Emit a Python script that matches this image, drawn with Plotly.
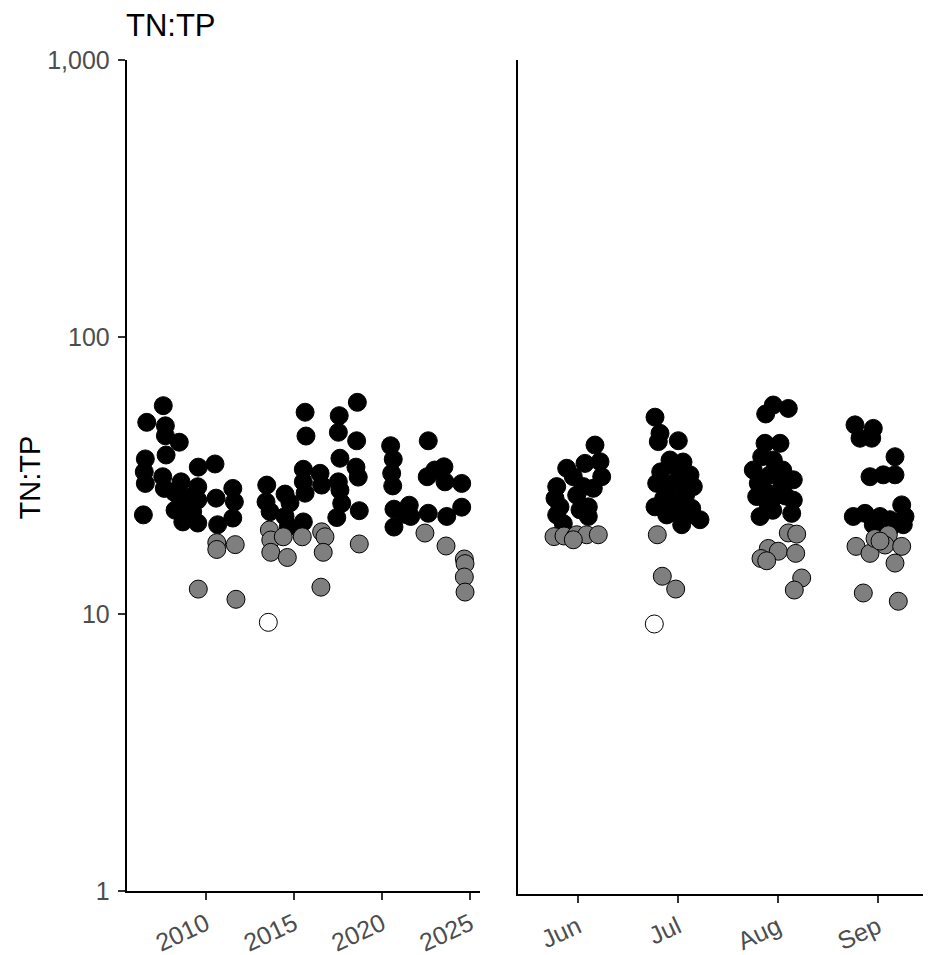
import plotly.graph_objects as go

# ---------------- data ----------------
# Left panel: x = year (jittered), y = TN:TP
left_black_x = [2007.57, 2006.63, 2007.69, 2007.69, 2008.48, 2007.73, 2006.55, 2009.56, 2010.51, 2006.49,
                2006.55, 2007.54, 2007.63, 2008.58, 2009.53, 2008.48, 2008.58, 2009.53, 2009.24, 2008.68,
                2009.53, 2010.57, 2011.52, 2011.61, 2011.52, 2010.66, 2006.44, 2009.09, 2008.24,
                2008.90, 2009.00, 2008.20,
                2018.60, 2015.63, 2017.57, 2017.52, 2015.68, 2018.56, 2017.61, 2018.52, 2015.53, 2016.48,
                2018.65, 2017.52, 2015.53, 2016.57, 2013.45, 2014.49, 2015.63, 2013.41, 2013.64, 2017.71,
                2018.71, 2017.43, 2014.49, 2015.53, 2014.68, 2014.77, 2017.61,
                2020.49, 2022.63, 2020.64, 2020.55, 2020.61, 2022.57, 2023.52, 2023.58, 2024.53, 2020.68,
                2021.55, 2021.63, 2020.68, 2022.63, 2023.68, 2024.53, 2023.00, 2021.30]
left_black_y = [56.5, 49.2, 47.8, 44.0, 41.7, 37.5, 36.3, 33.9, 34.8, 32.6,
                29.6, 31.3, 28.4, 30.0, 28.8, 26.5, 24.4, 25.8, 23.4, 21.5,
                21.3, 26.2, 28.4, 25.4, 22.2, 21.0, 22.8, 26.4, 23.7,
                22.5, 24.0, 27.5,
                58.1, 53.5, 52.0, 45.3, 43.9, 42.2, 36.5, 33.9, 33.3, 32.2,
                31.2, 30.0, 30.0, 29.2, 29.2, 27.1, 27.3, 25.4, 23.4, 25.1,
                23.6, 22.3, 22.5, 21.5, 20.7, 25.2, 28.0,
                40.5, 42.2, 36.2, 32.2, 29.0, 31.3, 34.0, 30.0, 29.6, 23.9,
                24.7, 22.5, 20.6, 23.1, 22.5, 24.3, 33.1, 22.9]
left_gray_x = [2010.61, 2010.61, 2011.66, 2009.56, 2011.70, 2013.60, 2013.68, 2014.39, 2015.47, 2016.57,
               2016.76, 2013.68, 2014.62, 2016.66, 2018.71, 2016.53, 2022.44, 2023.64, 2024.68, 2024.72,
               2024.68, 2024.72]
left_gray_y = [18.1, 17.1, 17.8, 12.3, 11.3, 20.1, 18.5, 19.0, 19.0, 19.8,
               19.0, 16.7, 16.0, 16.7, 17.9, 12.5, 19.6, 17.6, 15.8, 15.2,
               13.6, 12.0]
left_white_x = [2013.54]
left_white_y = [9.33]

# Right panel: x = month (jittered), y = TN:TP
right_black_x = [6.173, 6.223, 5.890, 6.073, 6.240, 5.790, 5.773, 5.956, 6.056, 6.156, 6.106, 5.790, 5.856,
                 6.106, 5.990, 5.823, 6.023,
                 6.773, 6.823, 7.006, 6.806, 6.973, 6.790, 7.123, 6.956, 7.156, 6.773, 7.023, 7.140, 6.890,
                 7.040, 7.223, 6.890, 7.053, 6.923, 7.053, 6.860, 7.080, 6.950, 6.830, 7.100,
                 7.956, 8.106, 7.880, 7.873, 8.023, 7.840, 7.956, 7.756, 7.806, 8.156, 8.040, 7.790, 7.973,
                 8.156, 7.823, 8.140, 7.906, 7.923, 7.880, 8.080, 7.950, 8.050,
                 8.773, 8.956, 8.823, 8.940, 9.173, 8.923, 9.056, 9.173, 8.756, 8.873, 9.023, 9.123, 9.240,
                 9.273, 8.956, 9.123, 9.256]
right_black_y = [41.2, 35.9, 34.0, 35.4, 31.7, 29.2, 26.5, 31.7, 29.2, 28.8, 24.7, 23.1, 21.5,
                 22.8, 27.2, 24.7, 24.1,
                 51.9, 45.4, 42.7, 42.4, 34.5, 30.0, 32.2, 30.0, 29.2, 24.7, 26.1, 24.4, 23.1,
                 21.3, 22.2, 28.4, 31.4, 36.4, 35.8, 26.5, 27.3, 24.0, 33.0, 23.0,
                 57.4, 55.8, 53.3, 41.8, 41.8, 37.4, 36.4, 33.5, 30.0, 30.9, 29.2, 26.9, 26.9,
                 26.1, 22.8, 23.4, 25.1, 32.2, 28.0, 27.0, 24.0, 33.5,
                 48.7, 47.3, 43.6, 43.6, 37.4, 31.7, 32.2, 32.2, 22.8, 23.4, 22.8, 22.2, 25.1,
                 22.8, 21.3, 20.7, 21.3]
right_gray_x = [5.763, 5.863, 5.973, 5.990, 6.090, 6.206, 5.956,
                6.796, 6.846, 6.980,
                8.106, 8.190, 7.906, 8.006, 7.833, 7.890, 8.180, 8.240, 8.166,
                8.783, 8.923, 8.973, 9.106, 9.073, 9.023, 9.240, 9.173, 8.856, 9.206]
right_gray_y = [19.3, 19.4, 19.2, 19.6, 19.6, 19.6, 18.8,
                19.6, 13.9, 12.5,
                19.9, 19.7, 17.5, 17.1, 16.1, 15.8, 16.8, 13.7, 12.4,
                17.8, 16.8, 19.0, 19.6, 18.0, 18.6, 17.8, 15.5, 12.1, 11.3]
right_white_x = [6.766]
right_white_y = [9.36]

year_ticks = [2010, 2015, 2020, 2025]
month_ticks = [6, 7, 8, 9]
month_labels = ["Jun", "Jul", "Aug", "Sep"]
y_ticks = [1, 10, 100, 1000]
y_labels = ["1", "10", "100", "1,000"]

# ---------------- figure ----------------
W, H = 931, 955
OFF = 8  # page body margin offset
FONT = "Liberation Sans, Arial, sans-serif"


def px(p):
    return (p - OFF) / W


def py(p):
    return (H - (p - OFF)) / H


fig = go.Figure()


def add_pts(x, y, fill, xa, ya):
    fig.add_trace(go.Scatter(
        x=x, y=y, mode="markers", xaxis=xa, yaxis=ya, showlegend=False,
        hoverinfo="skip",
        marker=dict(size=18, color=fill, line=dict(color="black", width=1)),
    ))


add_pts(left_black_x, left_black_y, "black", "x", "y")
add_pts(left_gray_x, left_gray_y, "#7F7F7F", "x", "y")
add_pts(left_white_x, left_white_y, "white", "x", "y")
add_pts(right_black_x, right_black_y, "black", "x2", "y2")
add_pts(right_gray_x, right_gray_y, "#7F7F7F", "x2", "y2")
add_pts(right_white_x, right_white_y, "white", "x2", "y2")

tickfont = dict(family=FONT, size=25, color="#4D4D4D")
common_axis = dict(showgrid=False, zeroline=False, showline=True, linecolor="black",
                   linewidth=1.5, ticks="outside", ticklen=7, tickwidth=1.5,
                   tickcolor="#333333", tickfont=tickfont, automargin=False)

fig.update_layout(
    width=W, height=H,
    margin=dict(l=0, r=0, t=0, b=0, pad=0),
    paper_bgcolor="white", plot_bgcolor="white",
    xaxis=dict(domain=[px(126.5), px(480)], range=[2005.48, 2025.57],
               tickvals=year_ticks, tickangle=-25, anchor="y", **common_axis),
    yaxis=dict(domain=[py(891), py(60)], type="log", range=[0, 3],
               tickvals=y_ticks, ticktext=y_labels, anchor="x",
               ticklabelstandoff=3, **common_axis),
    xaxis2=dict(domain=[px(518), px(931)], range=[5.403, 9.533],
                tickvals=month_ticks, ticktext=month_labels, tickangle=-25,
                anchor="y2", **common_axis),
    yaxis2=dict(domain=[py(894), py(60)], type="log", range=[0, 3],
                anchor="x2", showgrid=False, zeroline=False, showline=True,
                linecolor="black", linewidth=1.5, ticks="", showticklabels=False,
                automargin=False),
    annotations=[
        dict(text="TN:TP", xref="paper", yref="paper", x=px(124), y=py(25.5),
             xanchor="left", yanchor="middle", showarrow=False,
             font=dict(family=FONT, size=31, color="black")),
        dict(text="TN:TP", xref="paper", yref="paper", x=px(29.5), y=py(478),
             xanchor="center", yanchor="middle", showarrow=False, textangle=-90,
             font=dict(family=FONT, size=29, color="black")),
    ],
)

fig.write_html("out.html")
